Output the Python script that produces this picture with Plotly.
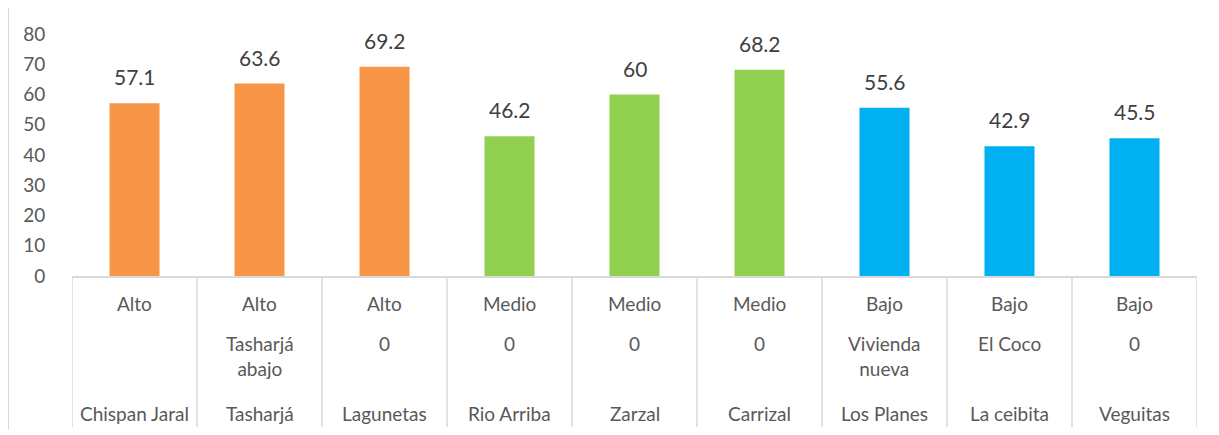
import plotly.graph_objects as go

# -----------------------------
# DATA
# -----------------------------
nivel = ["Alto", "Alto", "Alto", "Medio", "Medio", "Medio", "Bajo", "Bajo", "Bajo"]
sector = ["", "Tasharjá<br>abajo", "0", "0", "0", "0", "Vivienda<br>nueva", "El Coco", "0"]
comunidad = ["Chispan Jaral", "Tasharjá", "Lagunetas", "Rio Arriba", "Zarzal",
             "Carrizal", "Los Planes", "La ceibita", "Veguitas"]
valores = [57.1, 63.6, 69.2, 46.2, 60, 68.2, 55.6, 42.9, 45.5]

colores_nivel = {"Alto": "#F79646", "Medio": "#92D050", "Bajo": "#00B0F0"}

FONT = "Lato"
GRIS_LINEA = "#d9d9d9"
GRIS_TEXTO = "#595959"

# the page body has an 8px margin, so the figure starts at (8, 8)
OFF = 8
W, H = 1219 - OFF, 435 - OFF
L, T = 72 - OFF, 34 - OFF
plot_w = 1125
plot_h = 242
R = W - L - plot_w
B = H - T - plot_h

def py(page_y):
    # page pixel y -> paper y
    return (T + plot_h - (page_y - OFF)) / plot_h

def px(page_x):
    return (page_x - OFF - L) / plot_w

x_pos = list(range(len(valores)))

fig = go.Figure(
    go.Bar(
        x=x_pos,
        y=valores,
        width=0.4,
        marker=dict(color=[colores_nivel[n] for n in nivel], line=dict(width=0)),
        hoverinfo="skip",
    )
)

annotations = []
shapes = []

# data labels
for i, v in enumerate(valores):
    annotations.append(dict(
        x=i, y=v, xref="x", yref="y", text=f"{v:g}", showarrow=False,
        yanchor="bottom", yshift=12,
        font=dict(family=FONT, size=21, color="#404040"),
    ))

# -----------------------------
# MULTI-LEVEL CATEGORY TABLE
# -----------------------------
for i in range(len(valores)):
    annotations.append(dict(
        x=i, y=py(303), xref="x", yref="paper", text=nivel[i], showarrow=False,
        yanchor="middle", font=dict(family=FONT, size=19, color=GRIS_TEXTO),
    ))
    if sector[i]:
        annotations.append(dict(
            x=i, y=py(330), xref="x", yref="paper", text=sector[i], showarrow=False,
            yanchor="top", font=dict(family=FONT, size=19, color=GRIS_TEXTO),
        ))
    annotations.append(dict(
        x=i, y=py(413), xref="x", yref="paper", text=comunidad[i], showarrow=False,
        yanchor="middle", font=dict(family=FONT, size=19, color=GRIS_TEXTO),
    ))

for i in range(len(valores) + 1):
    shapes.append(dict(
        type="line", xref="x", yref="paper", x0=i - 0.5, x1=i - 0.5,
        y0=py(276), y1=py(427), line=dict(color=GRIS_LINEA, width=1.5),
    ))

# outer chart border (left + top)
shapes.append(dict(type="line", xref="paper", yref="paper",
                   x0=px(8), x1=px(8), y0=py(5), y1=py(430),
                   line=dict(color=GRIS_LINEA, width=2)))
shapes.append(dict(type="line", xref="paper", yref="paper",
                   x0=px(8), x1=px(1225), y0=py(5), y1=py(5),
                   line=dict(color=GRIS_LINEA, width=2)))

fig.update_layout(
    width=W, height=H, autosize=False,
    margin=dict(l=L, r=R, t=T, b=B),
    plot_bgcolor="white", paper_bgcolor="white",
    showlegend=False,
    annotations=annotations,
    shapes=shapes,
    xaxis=dict(
        range=[-0.5, len(valores) - 0.5],
        showticklabels=False, ticks="", showgrid=False, zeroline=False,
        showline=True, linecolor=GRIS_LINEA, linewidth=1.5,
    ),
    yaxis=dict(
        range=[0, 80], dtick=10, showgrid=False, zeroline=False, showline=False,
        ticks="outside", ticklen=22, tickcolor="rgba(0,0,0,0)",
        tickfont=dict(family=FONT, size=19, color=GRIS_TEXTO),
    ),
)

fig.write_html("out.html")
